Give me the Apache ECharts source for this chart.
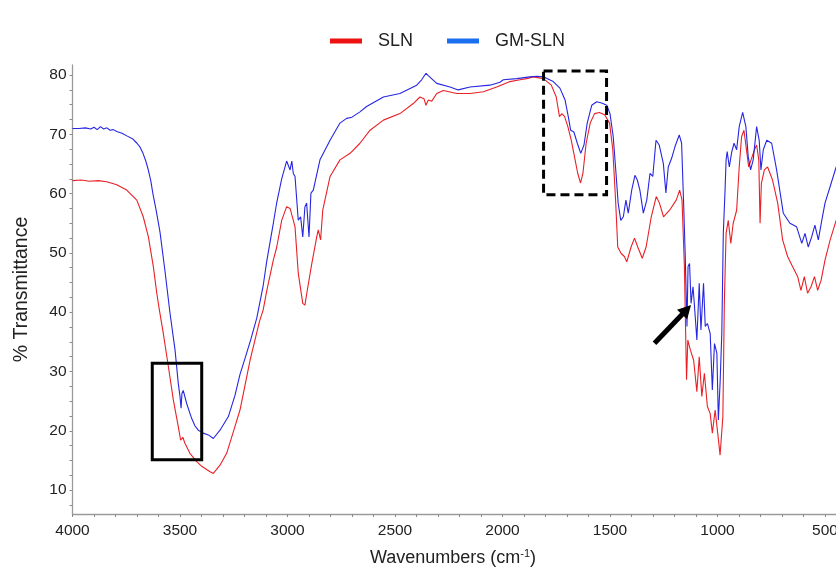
<!DOCTYPE html>
<html>
<head>
<meta charset="utf-8">
<script src="https://cdn.jsdelivr.net/npm/echarts@6/dist/echarts.min.js"></script>
<style>
  html, body { margin: 0; padding: 0; background: #fff; }
  #chart { width: 836px; height: 569px; }
</style>
</head>
<body>
<div id="chart"></div>
<script>
// FTIR spectra: wavenumber (cm-1) and % transmittance for each sample
const slnWavenumber = [4000,3960,3920,3880,3841,3794,3748,3701,3671,3647,3624,3608,3596,3578,3570,3554,3531,3508,3497,3487,3477,3454,3422,3399,3360,3345,3314,3283,3252,3221,3174,3130,3113,3097,3066,3050,3027,3004,2996,2988,2980,2973,2965,2950,2929,2919,2908,2887,2864,2857,2846,2836,2802,2756,2709,2663,2616,2554,2477,2415,2384,2365,2356,2345,2329,2306,2275,2213,2151,2089,2027,1965,1919,1887,1857,1810,1773,1750,1735,1724,1711,1696,1680,1665,1650,1637,1626,1611,1592,1572,1549,1525,1502,1487,1474,1464,1448,1433,1422,1402,1386,1371,1350,1332,1308,1285,1270,1251,1223,1192,1176,1165,1154,1144,1138,1126,1111,1096,1085,1073,1061,1047,1034,1024,1011,999,988,975,968,960,950,938,927,911,899,888,877,867,855,844,828,818,808,802,796,782,767,744,720,697,674,651,627,612,596,581,565,549,534,518,500,476,448,420];
const slnTransmittance = [62.2,62.3,62.1,62.2,62.0,61.5,60.6,58.9,56.1,52.7,47.7,43.2,40.4,36.5,34.6,30.8,25.2,20.7,18.4,18.9,17.9,16.2,14.8,14.0,13.1,12.8,14.2,16.2,19.8,23.5,31.9,38.5,40.4,43.5,48.8,51.0,55.5,57.8,57.9,57.5,57.2,55.5,54.4,46.6,41.5,41.2,43.7,48.2,52.7,53.9,52.2,57.2,62.9,65.7,66.8,68.5,70.7,72.4,73.5,75.2,76.3,76.0,74.9,75.8,75.6,76.9,77.4,76.9,76.9,77.2,78.0,78.9,79.2,79.4,79.7,79.4,78.3,76.3,73.0,73.5,73.0,71.3,69.0,66.2,63.4,61.8,63.4,68.5,71.9,73.5,73.7,73.3,71.9,67.4,58.9,51.0,49.9,49.4,48.5,51.0,52.5,51.0,49.1,51.0,56.1,59.5,58.4,56.1,57.2,58.9,60.6,58.9,47.7,28.6,35.3,33.6,31.9,26.6,32.5,25.8,29.7,24.1,22.9,19.6,23.5,19.6,15.9,22.4,42.0,53.3,55.5,51.6,55.0,57.2,64.5,69.6,70.7,67.9,64.5,65.7,67.4,68.2,65.7,55.0,61.7,64.0,64.5,62.3,58.4,52.2,49.4,47.7,46.0,43.7,46.0,43.2,44.3,46.0,43.7,45.4,48.8,52.2,55.5,57.0];

const gmWavenumber = [4000,3970,3940,3915,3900,3885,3870,3855,3840,3825,3810,3794,3770,3745,3719,3700,3685,3672,3660,3649,3636,3626,3610,3593,3570,3547,3523,3508,3500,3495,3491,3485,3469,3446,3430,3415,3392,3368,3345,3314,3275,3244,3221,3195,3170,3143,3113,3097,3066,3050,3027,3004,2996,2988,2980,2973,2965,2950,2939,2929,2919,2911,2900,2891,2880,2849,2802,2756,2725,2700,2663,2632,2554,2477,2399,2376,2356,2345,2337,2306,2244,2206,2151,2058,2012,1996,1934,1872,1840,1810,1764,1733,1709,1694,1683,1668,1652,1636,1621,1606,1585,1562,1539,1515,1500,1485,1472,1462,1450,1438,1426,1415,1399,1384,1373,1361,1345,1329,1314,1301,1286,1271,1252,1240,1229,1213,1198,1178,1167,1158,1150,1142,1137,1130,1123,1114,1108,1096,1085,1077,1065,1057,1047,1034,1024,1014,1003,996,988,980,973,965,960,955,945,934,923,911,899,883,868,857,846,834,818,806,798,787,771,748,725,694,663,632,608,593,578,562,547,531,515,500,476,448,420];
const gmTransmittance = [71.0,71.0,71.1,70.9,71.2,70.8,71.3,70.9,71.1,70.7,70.8,70.5,70.2,69.7,69.2,68.5,67.8,66.8,65.6,64.2,62.2,60.0,57.0,53.5,47.0,40.0,33.6,28.0,25.8,23.8,26.3,26.8,24.6,22.1,20.8,20.1,19.6,19.3,18.7,20.1,22.4,26.0,29.5,32.5,35.5,39.0,44.5,48.5,55.0,58.5,62.5,65.5,65.8,64.0,65.5,63.4,62.9,55.5,56.1,52.7,57.8,58.4,52.7,60.1,60.6,65.7,69.0,71.9,72.7,72.9,73.8,74.7,76.3,76.9,78.3,79.2,80.3,79.9,79.7,78.6,78.0,77.5,78.0,78.3,78.8,79.2,79.4,79.7,79.8,79.7,78.9,77.8,75.8,73.0,70.7,70.4,68.5,66.8,68.2,71.9,74.9,75.5,75.3,74.9,73.5,69.6,63.4,58.4,55.5,56.1,58.9,56.7,60.6,63.1,62.3,60.6,56.7,58.9,63.4,62.9,69.0,68.2,65.1,60.1,64.5,66.0,67.9,69.9,68.5,58.9,49.4,37.6,47.7,48.2,41.5,44.3,41.5,35.3,44.9,37.0,44.9,37.6,38.1,36.4,26.9,34.7,33.1,21.8,28.0,36.4,53.3,60.5,65.7,67.1,64.5,67.0,68.5,67.4,71.3,73.7,71.3,66.2,64.0,65.7,71.3,69.0,64.0,67.4,69.0,68.5,64.0,56.7,55.0,54.4,51.6,53.3,51.0,52.7,54.7,52.2,55.5,58.4,61.2,64.5,66.0];

// Axis tick labels and minor tick positions
const xTickLabels = [500, 1000, 1500, 2000, 2500, 3000, 3500, 4000];
const xTickMarks = [];
for (let w = 500; w <= 4000; w += 100) xTickMarks.push(w);
const yTickLabels = [10, 20, 30, 40, 50, 60, 70, 80];
const yTickMarks = [];
for (let t = 7.5; t <= 80; t += 2.5) yTickMarks.push(t);

// Annotation anchors in data space (wavenumber, %T)
const boxO = [[3629, 31.4], [3399, 15.1]];
const boxCO = [[1809, 80.7], [1516, 59.8]];
const arrowTail = [1293, 34.75];
const arrowTip = [1123, 41.2];

const zip = (xs, ys) => xs.map((x, i) => [x, ys[i]]);
const FONT = '"Liberation Sans", Arial, Helvetica, sans-serif';

const chart = echarts.init(document.getElementById('chart'), null, { renderer: 'canvas' });

const option = {
  animation: false,
  backgroundColor: '#ffffff',
  textStyle: { fontFamily: FONT },
  legend: {
    left: 325,
    top: 27,
    icon: 'rect',
    itemWidth: 32,
    itemHeight: 5,
    itemGap: 34,
    textStyle: { fontSize: 18, color: '#222', fontFamily: FONT, padding: [0, 0, 0, 11] },
    data: [
      { name: 'SLN', itemStyle: { color: '#ee1111' } },
      { name: 'GM-SLN', itemStyle: { color: '#1a6ff0' } }
    ]
  },
  // the wavenumber axis runs on past the right edge of the canvas
  grid: { left: 72.5, top: 65, width: 774, height: 449, containLabel: false, outerBoundsMode: 'none' },
  xAxis: {
    type: 'value',
    inverse: true,
    min: 400,
    max: 4000,
    splitLine: { show: false },
    axisLine: { show: true, lineStyle: { color: '#9a9a9a', width: 1.3 } },
    axisTick: { show: true, length: 3, lineStyle: { color: '#8a8a8a', width: 1 }, customValues: xTickMarks },
    axisLabel: { customValues: xTickLabels, formatter: v => String(v), fontSize: 15.5, color: '#222', margin: 9, fontFamily: FONT }
  },
  yAxis: {
    type: 'value',
    min: 5.96,
    max: 81.7,
    name: '% Transmittance',
    nameLocation: 'middle',
    nameGap: 41,
    nameTextStyle: { fontSize: 19.5, color: '#222', fontFamily: FONT },
    splitLine: { show: false },
    axisLine: { show: true, lineStyle: { color: '#9a9a9a', width: 1.3 } },
    axisTick: { show: true, length: 3, lineStyle: { color: '#8a8a8a', width: 1 }, customValues: yTickMarks },
    axisLabel: { customValues: yTickLabels, formatter: v => String(v), fontSize: 15.5, color: '#222', margin: 6, fontFamily: FONT }
  },
  series: [
    {
      name: 'SLN',
      type: 'line',
      data: zip(slnWavenumber, slnTransmittance),
      symbol: 'none',
      lineStyle: { width: 1.1, color: '#ea2026' },
      itemStyle: { color: '#ea2026' },
      z: 2
    },
    {
      name: 'GM-SLN',
      type: 'line',
      data: zip(gmWavenumber, gmTransmittance),
      symbol: 'none',
      lineStyle: { width: 1.1, color: '#2626e2' },
      itemStyle: { color: '#2626e2' },
      z: 3
    }
  ]
};

chart.setOption(option);

// Annotation boxes and arrow, placed from data-space anchors
function px(p) { return chart.convertToPixel({ gridIndex: 0 }, p); }
function rectFrom(pair, dash) {
  const a = px(pair[0]), b = px(pair[1]);
  return {
    type: 'rect',
    z: 100,
    shape: { x: Math.min(a[0], b[0]), y: Math.min(a[1], b[1]), width: Math.abs(b[0] - a[0]), height: Math.abs(b[1] - a[1]) },
    style: { fill: 'none', stroke: '#000', lineWidth: 3, lineDash: dash || null }
  };
}
const t0 = px(arrowTail), t1 = px(arrowTip);
const dx = t1[0] - t0[0], dy = t1[1] - t0[1];
const len = Math.hypot(dx, dy);
const ux = dx / len, uy = dy / len;
const headLen = 13, headHalf = 7;
const base = [t1[0] - ux * headLen, t1[1] - uy * headLen];
const nx = -uy, ny = ux;

chart.setOption({
  graphic: [
    rectFrom(boxO),
    rectFrom(boxCO, [9, 5]),
    {
      type: 'line', z: 100,
      shape: { x1: t0[0], y1: t0[1], x2: base[0] + ux, y2: base[1] + uy },
      style: { stroke: '#000', lineWidth: 5 }
    },
    {
      type: 'polygon', z: 100,
      shape: { points: [t1, [base[0] + nx * headHalf, base[1] + ny * headHalf], [base[0] - nx * headHalf, base[1] - ny * headHalf]] },
      style: { fill: '#000' }
    },
    {
      type: 'text', z: 100,
      x: 453, y: 558,
      style: {
        text: 'Wavenumbers (cm{sup|-1})',
        fontSize: 18, fontFamily: FONT, fill: '#222',
        align: 'center', verticalAlign: 'middle',
        lineHeight: 20,
        rich: { sup: { fontSize: 11, lineHeight: 11, verticalAlign: 'top', fontFamily: FONT, fill: '#222' } }
      }
    }
  ]
});
</script>
</body>
</html>
